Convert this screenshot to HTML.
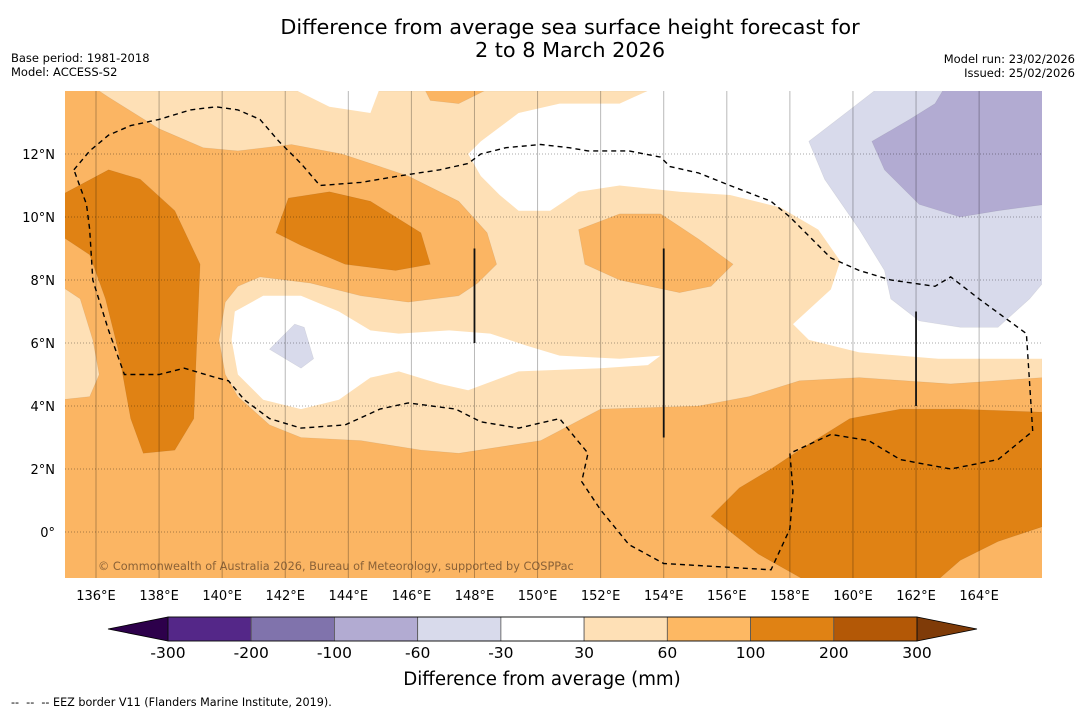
<!DOCTYPE html>
<html><head><meta charset="utf-8"><style>
body{margin:0;background:#fff;width:1085px;height:713px;overflow:hidden;font-family:"DejaVu Sans","Liberation Sans",sans-serif;}
svg text{font-family:"DejaVu Sans","Liberation Sans",sans-serif;}
</style></head><body>
<svg id="chart" width="1085" height="713" viewBox="0 0 1085 713" xmlns="http://www.w3.org/2000/svg">
<text x="570" y="34" font-size="20.8" text-anchor="middle">Difference from average sea surface height forecast for</text>
<text x="570" y="57" font-size="20.8" text-anchor="middle">2 to 8 March 2026</text>
<text x="11" y="62" font-size="11.5">Base period: 1981-2018</text>
<text x="11" y="76" font-size="11.5">Model: ACCESS-S2</text>
<text x="1075" y="63" font-size="11.5" text-anchor="end">Model run: 23/02/2026</text>
<text x="1075" y="77" font-size="11.5" text-anchor="end">Issued: 25/02/2026</text>
<defs><clipPath id="mapclip"><rect x="65" y="91" width="977" height="487"/></clipPath></defs>
<g id="map" clip-path="url(#mapclip)"></g>
<g id="axes"></g>
<g id="cbar"></g>
<text x="542" y="685" font-size="18.2" text-anchor="middle">Difference from average (mm)</text>
<text x="11" y="706" font-size="11.2" xml:space="preserve" style="white-space:pre">--  --  -- EEZ border V11 (Flanders Marine Institute, 2019).</text>
</svg>
<script>
const lonTicks=[136,138,140,142,144,146,148,150,152,154,156,158,160,162,164];
const latTicks=[0,2,4,6,8,10,12];
const cbarLevels=[-300,-200,-100,-60,-30,30,60,100,200,300];
const cbarColors=['#542788','#8073ac','#b2abd2','#d8daeb','#ffffff','#fee0b6','#fdb863','#e08214','#b35806'];
const regionLight=[[136.1,14],[136.4,13.8],[138,12.8],[139.4,12.2],[140.5,12.1],[142.2,12.3],[143.8,12],[145.9,11.3],[147.5,10.5],[148.4,9.5],[148.7,8.5],[148.1,7.9],[147.5,7.5],[145.9,7.3],[144.4,7.5],[142.8,7.9],[141.2,8.1],[140.5,7.8],[140.1,7.3],[139.9,6.1],[140.1,5],[140.5,4.3],[141.5,3.4],[142.5,3],[144.4,2.9],[146.3,2.6],[147.5,2.5],[150.1,2.9],[152,3.9],[155.1,4],[156.7,4.3],[158.3,4.8],[160.2,4.9],[163.1,4.7],[166,4.9],[166,14]];
const regionLightLeft=[[134.9,7.8],[135.5,7.4],[135.9,6.1],[136.1,5],[135.8,4.3],[134.9,4.2]];
const regionDarkLeft=[[134.9,10.7],[136.4,11.5],[137.4,11.2],[138.5,10.2],[139.3,8.5],[139.2,6.1],[139.1,3.6],[138.5,2.6],[137.5,2.5],[137.1,3.6],[136.7,5.8],[136.3,7.4],[135.8,8.8],[134.9,9.4]];
const regionDarkMid=[[142.1,10.6],[143.4,10.8],[144.7,10.5],[146.3,9.5],[146.6,8.5],[145.5,8.3],[143.9,8.5],[142.5,9.1],[141.7,9.5]];
const regionDarkRight=[[155.5,0.5],[156.4,1.4],[157.4,2],[158.3,2.6],[159.9,3.6],[161.5,3.9],[163.4,3.9],[166.1,3.8],[166.1,0.2],[164.6,-0.3],[163.4,-0.9],[162.6,-1.6],[158.6,-1.6],[157,-0.7]];
const regionOrangeBlob=[[151.3,9.6],[152.6,10.1],[153.9,10.1],[155.1,9.3],[156.2,8.5],[155.5,7.8],[154.5,7.6],[152.6,8],[151.5,8.5]];
const regionOrangeTop=[[146.4,14.1],[148.5,14.1],[147.5,13.6],[146.6,13.7]];
const regionWhiteTop=[[142.2,14.1],[143.4,13.5],[144.7,13.3],[145,14.1]];
const regionWhiteMain=[[153.7,14.1],[152.6,13.6],[150.7,13.6],[149.4,13.3],[148.2,12.4],[147.8,12],[148.2,11.3],[148.8,10.7],[149.4,10.2],[150.4,10.2],[151.3,10.8],[152.6,11],[154.5,10.8],[156.1,10.7],[157.7,10.3],[158.9,9.6],[159.6,8.6],[159.3,7.7],[158.1,6.6],[158.6,6.1],[160.2,5.7],[162.7,5.5],[166.1,5.5],[166.1,14.1]];
const regionLavender=[[160.8,14.1],[159.9,13.4],[158.6,12.4],[159.1,11.2],[160.2,9.6],[161,8.3],[161.2,7.4],[162.1,6.7],[163.4,6.5],[164.6,6.5],[165.6,7.4],[166.1,8],[166.1,14.1]];
const regionPurple=[[162.9,14.1],[166.1,14.1],[166.1,10.4],[164.6,10.2],[163.4,10],[162.1,10.4],[161,11.5],[160.6,12.4],[161.8,13.1],[162.6,13.6]];
const regionWhiteInner=[[140.4,7],[141.3,7.5],[142.5,7.5],[143.7,7],[144.7,6.4],[145.6,6.3],[147.2,6.4],[148.5,6.3],[149.7,5.9],[150.7,5.6],[152.6,5.5],[153.9,5.6],[153.5,5.3],[152,5.2],[149.4,5.1],[147.8,4.5],[146.9,4.7],[145.6,5.1],[144.7,4.9],[143.7,4.2],[142.5,3.9],[141.3,4.2],[140.5,5],[140.3,6.1]];
const regionLavSmall=[[141.5,5.8],[142.3,6.6],[142.6,6.5],[142.9,5.5],[142.5,5.2]];
const eezBorder=[[135.3,11.5],[135.8,12.1],[136.4,12.6],[137.1,12.9],[138,13.1],[139,13.4],[139.8,13.5],[140.5,13.4],[141.2,13.1],[141.8,12.4],[142.5,11.7],[143.1,11],[144.4,11.1],[145.6,11.3],[146.9,11.5],[147.8,11.7],[148.2,12],[149,12.2],[150.1,12.3],[151,12.2],[151.6,12.1],[152.9,12.1],[153.9,11.9],[154.2,11.6],[155.1,11.4],[156.1,11],[157.4,10.5],[158,10],[158.6,9.4],[159.3,8.7],[160.2,8.3],[161.2,8],[162.6,7.8],[163.1,8.1],[164,7.4],[165.5,6.3],[165.7,3.2],[164.6,2.3],[163.1,2],[161.5,2.3],[160.5,2.9],[159.3,3.1],[158,2.5],[158.1,1.3],[158,0.1],[157.4,-1.2],[154,-1],[152.9,-0.4],[152,0.7],[151.4,1.6],[151.6,2.5],[150.7,3.6],[149.4,3.3],[148.2,3.5],[147.4,3.9],[145.9,4.1],[145,3.9],[143.9,3.4],[142.5,3.3],[141.5,3.6],[140.7,4.2],[140.2,4.8],[139.8,4.9],[138.8,5.2],[138,5],[136.9,5],[136.4,6.4],[135.9,8],[135.8,9.6],[135.7,10.4],[135.3,11.5]];
const blackLines=[[148,9,6],[154,9,3],[162,7,4]];

const NS='http://www.w3.org/2000/svg';
const X=lon=>96+(lon-136)*31.54;
const Y=lat=>532-lat*31.5;
function mk(tag,attrs,parent){const e=document.createElementNS(NS,tag);for(const k in attrs)e.setAttribute(k,attrs[k]);parent.appendChild(e);return e;}
const map=document.getElementById('map'),axes=document.getElementById('axes'),cb=document.getElementById('cbar');
const base=mk('rect',{x:65,y:91,width:977,height:487,fill:'#fbb563'},map);


const pts=a=>a.map(p=>X(p[0]).toFixed(1)+','+Y(p[1]).toFixed(1)).join(' ');
const layers=[[regionLight,'#fee0b6','contour-30-60-north'],[regionLightLeft,'#fee0b6','contour-30-60-west'],[regionWhiteTop,'#ffffff','contour-neutral-top'],[regionWhiteMain,'#ffffff','contour-neutral-east'],[regionLavender,'#d8daeb','contour-minus60-30'],[regionPurple,'#b2abd2','contour-minus100-60'],[regionWhiteInner,'#ffffff','contour-neutral-central'],[regionLavSmall,'#d8daeb','contour-minus60-30-small'],[regionOrangeTop,'#fbb563','contour-60-100-top'],[regionOrangeBlob,'#fbb563','contour-60-100-central'],[regionDarkLeft,'#e08214','contour-100-200-west'],[regionDarkMid,'#e08214','contour-100-200-central'],[regionDarkRight,'#e08214','contour-100-200-southeast']];
layers.forEach(l=>{const p=mk('polygon',{points:pts(l[0]),fill:l[1],stroke:l[1]==='#ffffff'?'none':'rgba(0,0,0,0.08)','stroke-width':0.6},map);

});
lonTicks.forEach(t=>{const g=mk('line',{x1:X(t),x2:X(t),y1:91,y2:578,stroke:'rgba(0,0,0,0.28)','stroke-width':1},map);


const tx=mk('text',{x:X(t),y:600,'font-size':13,'text-anchor':'middle'},axes);tx.textContent=t+'°E';

});
latTicks.forEach(t=>{const g=mk('line',{x1:65,x2:1042,y1:Y(t),y2:Y(t),stroke:'rgba(0,0,0,0.45)','stroke-width':0.8,'stroke-dasharray':'1,2'},map);


const tx=mk('text',{x:55,y:Y(t)+5,'font-size':13,'text-anchor':'end'},axes);tx.textContent=t===0?'0°':t+'°N';

});
const eez=mk('polyline',{points:pts(eezBorder),fill:'none',stroke:'#000','stroke-width':1.4,'stroke-dasharray':'5,4'},map);


blackLines.forEach(b=>{const l=mk('line',{x1:X(b[0]),x2:X(b[0]),y1:Y(b[1]),y2:Y(b[2]),stroke:'#111','stroke-width':1.8},map);

});
const wm=mk('text',{x:98,y:570,'font-size':11.3,fill:'rgba(100,70,40,0.75)'},map);wm.textContent='© Commonwealth of Australia 2026, Bureau of Meteorology, supported by COSPPac';


const cx0=168,cx1=917,cy=617,ch=24,cw=(cx1-cx0)/(cbarLevels.length-1);
const lt=mk('polygon',{points:`108,${cy+ch/2} ${cx0},${cy} ${cx0},${cy+ch}`,fill:'#2d004b',stroke:'#000','stroke-width':0.8},cb);


const rt=mk('polygon',{points:`977,${cy+ch/2} ${cx1},${cy} ${cx1},${cy+ch}`,fill:'#7f3b08',stroke:'#000','stroke-width':0.8},cb);


cbarColors.forEach((c,i)=>{const r=mk('rect',{x:cx0+i*cw,y:cy,width:cw,height:ch,fill:c,stroke:'#555','stroke-width':0.8},cb);

});
mk('rect',{x:cx0,y:cy,width:cx1-cx0,height:ch,fill:'none',stroke:'#000','stroke-width':0.8},cb);
cbarLevels.forEach((v,i)=>{const t=mk('text',{x:cx0+i*cw,y:658,'font-size':15.5,'text-anchor':'middle'},cb);t.textContent=v;

});
</script>
</body></html>
